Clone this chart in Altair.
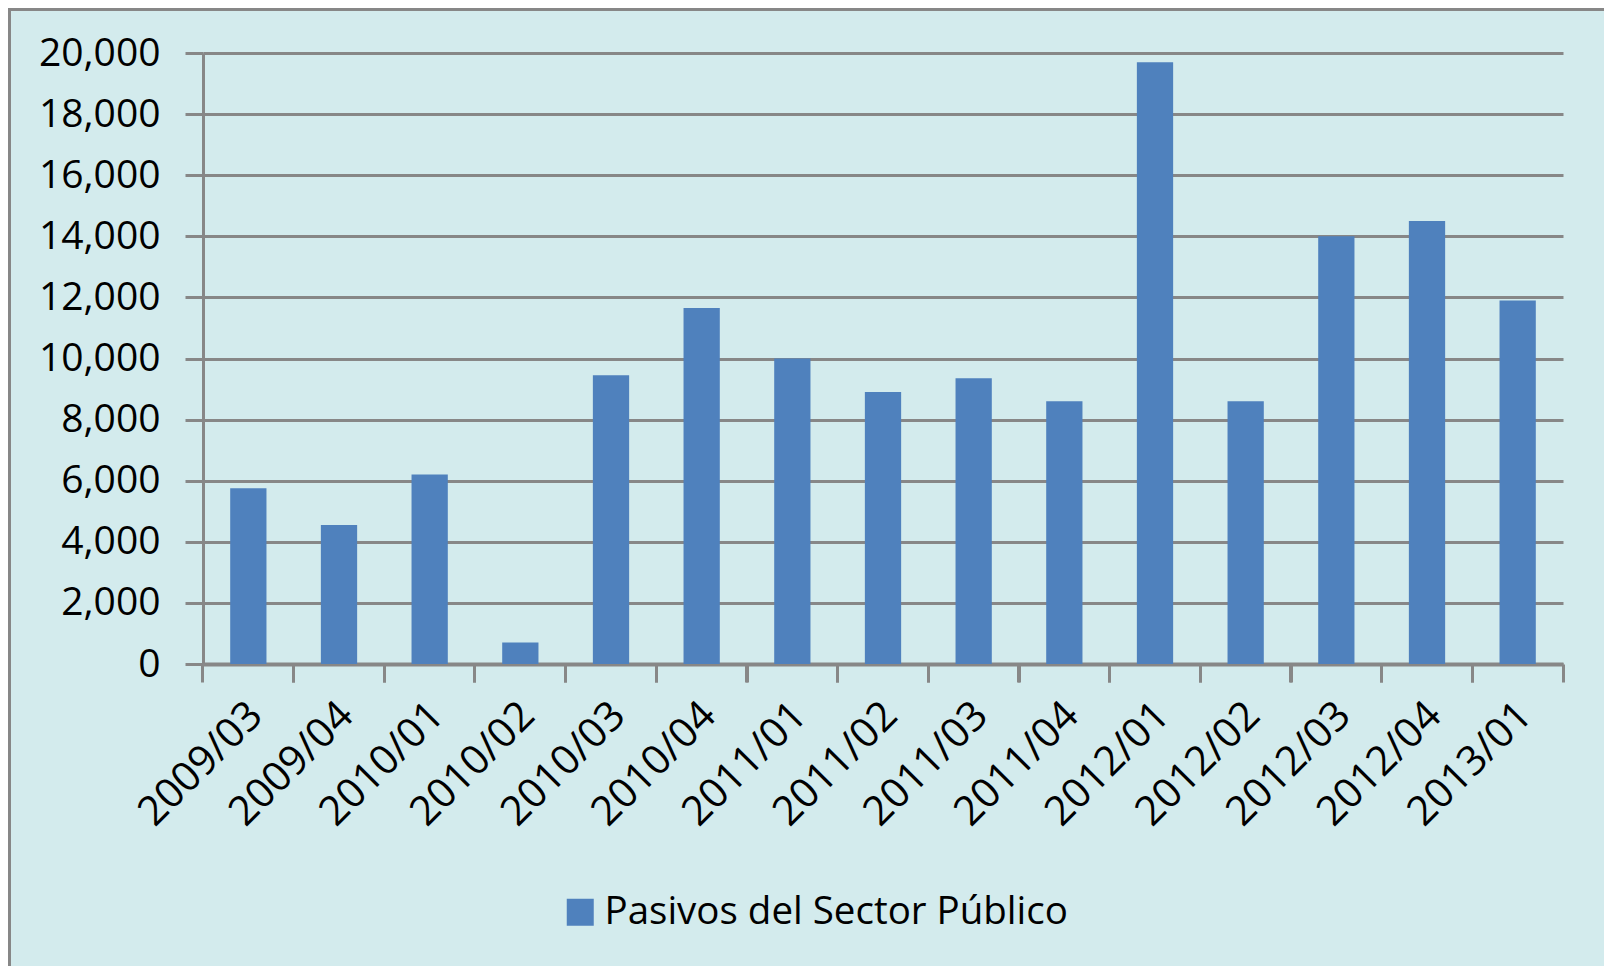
import altair as alt
import pandas as pd

categories = ["2009/03", "2009/04", "2010/01", "2010/02", "2010/03", "2010/04",
              "2011/01", "2011/02", "2011/03", "2011/04", "2012/01", "2012/02",
              "2012/03", "2012/04", "2013/01"]
values = [5750, 4550, 6200, 700, 9450, 11650, 10000, 8900, 9350, 8600,
          19700, 8600, 14000, 14500, 11900]
series_name = "Pasivos del Sector Público"
y_ticks = [0, 2000, 4000, 6000, 8000, 10000, 12000, 14000, 16000, 18000, 20000]

df = pd.DataFrame({"periodo": categories, "valor": values, "serie": series_name})

FONT = "Open Sans"
FS = 39
GRID = "#878787"
BG = "#D3EBED"
BAR = "#4F81BD"

xscale = alt.Scale(paddingInner=0.6, paddingOuter=0.3)

bars = alt.Chart(df).mark_bar().encode(
    x=alt.X("periodo:N", sort=categories, title=None, scale=xscale,
            axis=alt.Axis(orient="bottom", labelAngle=315, labelAlign="right",
                          labelBaseline="middle", labelFontSize=41, labelFont=FONT,
                          labelColor="#000000", labelPadding=45, labelOffset=8,
                          ticks=False, tickSize=18, domainColor=GRID, domainWidth=4,
                          grid=False, labelOverlap=False)),
    y=alt.Y("valor:Q", title=None,
            scale=alt.Scale(domain=[0, 20000], nice=False),
            axis=alt.Axis(values=y_ticks, format=",d", labelFontSize=FS, labelFont=FONT,
                          labelColor="#000000", labelPadding=25, tickSize=18,
                          tickWidth=3, tickColor=GRID, domainColor=GRID, domainWidth=3,
                          grid=True, gridColor=GRID, gridWidth=3)),
    color=alt.Color("serie:N", title=None,
                    scale=alt.Scale(domain=[series_name], range=[BAR]),
                    legend=alt.Legend(orient="none", legendX=358, legendY=840,
                                      symbolType="square", symbolSize=729,
                                      symbolStrokeWidth=0, labelFontSize=38.5,
                                      labelFont=FONT, labelColor="#000000",
                                      labelOffset=5, padding=0, labelLimit=1000)),
)


def tick_layer(band_pos):
    return alt.Chart(df).mark_rule(opacity=0).encode(
        x=alt.X("periodo:N", sort=categories, title=None, scale=xscale,
                axis=alt.Axis(orient="bottom", bandPosition=band_pos, labels=False,
                              domain=False, grid=False, ticks=True, tickSize=18,
                              tickWidth=3, tickColor=GRID)),
    )


frame = alt.Chart(alt.Data(values=[{"k": 1}])).mark_rect(
    fill=None, stroke=GRID, strokeWidth=3
).encode(
    x=alt.value(-193.5), x2=alt.value(3000),
    y=alt.value(-43.5), y2=alt.value(3000),
)

chart = alt.layer(bars, tick_layer(-0.75), tick_layer(1.75), frame).resolve_axis(
    x="independent"
).properties(
    width=1360, height=611, background=BG,
    autosize=alt.AutoSizeParams(type="none"),
    padding={"left": 195, "top": 45, "right": 41, "bottom": 302},
).configure_view(stroke=None)

chart.save("out.html", embed_options={"renderer": "svg", "actions": False})
